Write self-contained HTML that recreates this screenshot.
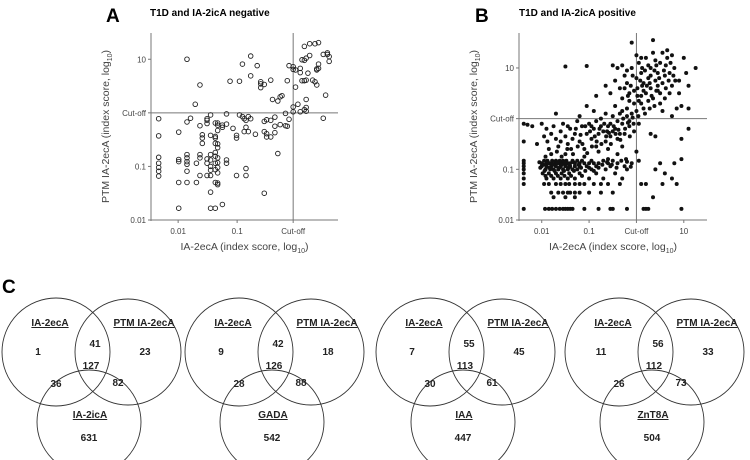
<!DOCTYPE html>
<html><head><meta charset="utf-8"><style>
body{margin:0;background:#fff;}
svg{display:block;font-family:"Liberation Sans",Arial,sans-serif;}
</style></head><body>
<svg id="fig" width="750" height="460" viewBox="0 0 750 460" xmlns="http://www.w3.org/2000/svg">
<text x="106" y="22" font-size="19" font-weight="bold">A</text>
<text x="150" y="16" font-size="10" font-weight="bold">T1D and IA-2icA negative</text>
<text x="475" y="22" font-size="19" font-weight="bold">B</text>
<text x="519" y="16" font-size="10" font-weight="bold">T1D and IA-2icA positive</text>
<text x="2" y="293" font-size="19" font-weight="bold">C</text>
<g id="chartA"></g>
<g id="chartB"></g>
<g id="venns"></g>
</svg>
<script>
const NS="http://www.w3.org/2000/svg";
// Panel A data: [log10 IA-2ecA, log10 PTM IA-2ecA]
const negPoints=[[-2.33,-0.11],[-2.33,-0.43],[-2.33,-0.83],[-2.33,-0.94],[-2.33,-1.02],[-2.33,-1.09],[-2.33,-1.18],
[-1.99,-0.36],[-1.99,-0.87],[-1.99,-0.91],[-1.99,-1.3],[-1.99,-1.78],
[-1.85,1.0],[-1.85,-0.17],[-1.85,-0.78],[-1.85,-0.84],[-1.85,-0.91],[-1.85,-0.96],[-1.85,-1.09],[-1.85,-1.3],
[-1.79,-0.1],[-1.71,0.16],[-1.69,-0.94],[-1.69,-1.3],
[-1.63,0.52],[-1.63,-0.24],[-1.63,-0.78],[-1.63,-0.84],[-1.63,-1.17],
[-1.59,-0.41],[-1.59,-0.47],[-1.59,-0.57],
[-1.51,-0.11],[-1.51,-0.14],[-1.51,-0.2],[-1.51,-0.86],[-1.51,-0.94],[-1.51,-1.17],
[-1.45,-0.04],[-1.45,-0.42],[-1.45,-0.78],[-1.45,-0.88],[-1.45,-1.0],[-1.45,-1.07],[-1.45,-1.17],[-1.45,-1.48],[-1.45,-1.78],
[-1.37,-0.19],[-1.37,-0.44],[-1.37,-0.47],[-1.37,-0.57],[-1.37,-0.74],[-1.37,-0.81],[-1.37,-0.94],[-1.37,-1.06],[-1.37,-1.3],[-1.37,-1.78],
[-1.33,-0.19],[-1.33,-0.23],[-1.33,-0.33],[-1.33,-0.58],[-1.33,-0.65],[-1.33,-0.84],[-1.33,-0.93],[-1.33,-1.02],[-1.33,-1.12],[-1.33,-1.31],[-1.33,-1.34],
[-1.25,-0.23],[-1.25,-0.27],[-1.25,-1.71],
[-1.18,-0.02],[-1.18,-0.21],[-1.18,-0.88],[-1.18,-0.94],
[-1.12,0.59],[-1.07,-0.29],[-1.01,-0.42],[-1.01,-0.47],[-1.01,-1.17],
[-0.96,0.59],[-0.96,-0.04],[-0.91,0.91],[-0.91,-0.07],[-0.88,-0.11],[-0.88,-0.35],
[-0.85,-0.14],[-0.85,-0.27],[-0.85,-1.04],[-0.85,-1.17],[-0.81,-0.07],[-0.81,-0.35],
[-0.77,1.06],[-0.77,0.69],[-0.77,-0.11],[-0.69,-0.4],[-0.66,0.88],
[-0.6,0.47],[-0.6,0.58],[-0.6,0.54],[-0.54,0.53],[-0.54,-0.16],[-0.54,-0.35],[-0.54,-1.5],
[-0.5,-0.13],[-0.5,-0.39],[-0.5,-0.45],[-0.43,0.61],[-0.43,-0.14],[-0.43,-0.45],[-0.4,0.25],
[-0.36,-0.08],[-0.36,-0.25],[-0.36,-0.37],[-0.31,-0.76],[-0.31,0.22],[-0.27,0.3],[-0.27,-0.22],[-0.24,0.32],
[-0.18,-0.01],[-0.18,-0.24],[-0.15,0.6],[-0.15,-0.25],[-0.12,0.88],[-0.12,-0.12],
[-0.05,0.86],[-0.05,0.81],[-0.05,0.11],[-0.05,0.02],[-0.01,0.8],[-0.01,0.48],[0.03,0.16],
[0.07,0.83],[0.07,0.75],[0.07,0.02],[0.1,0.99],[0.1,0.6],[0.14,1.24],[0.14,0.98],[0.14,0.6],[0.14,0.06],
[0.17,1.02],[0.17,0.61],[0.17,0.25],[0.17,0.1],[0.17,0.03],[0.2,0.74],[0.23,1.29],[0.23,1.07],
[0.28,0.61],[0.32,1.29],[0.32,0.58],[0.35,0.82],[0.35,0.8],[0.35,0.52],[0.38,1.31],[0.38,0.91],[0.38,0.83],
[0.46,1.09],[0.46,-0.1],[0.5,0.33],[0.53,1.12],[0.53,1.09],[0.56,1.05],[0.56,0.96]];
// Panel B data
const posPoints=[[-2.38,-1.78],[-1.93,-1.78],[-1.85,-1.78],[-1.78,-1.78],[-1.7,-1.78],[-1.62,-1.78],[-1.55,-1.78],[-1.5,-1.78],[-1.45,-1.78],[-1.4,-1.78],[-1.35,-1.78],[-1.1,-1.78],[-0.8,-1.78],[-0.55,-1.78],[-0.5,-1.78],[-0.2,-1.78],[0.15,-1.78],[0.2,-1.78],[0.25,-1.78],[0.95,-1.78],
[-1.8,-1.46],[-1.65,-1.46],[-1.55,-1.46],[-1.45,-1.46],[-1.4,-1.46],[-1.3,-1.46],[-1.2,-1.46],[-1.0,-1.46],[-0.75,-1.46],[-0.5,-1.46],
[-2.38,-1.29],[-1.95,-1.29],[-1.85,-1.29],[-1.7,-1.29],[-1.6,-1.29],[-1.5,-1.29],[-1.42,-1.29],[-1.3,-1.29],[-1.2,-1.29],[-1.1,-1.29],[-0.9,-1.29],[-0.75,-1.29],[-0.6,-1.29],[-0.35,-1.29],[0.1,-1.29],[0.2,-1.29],[0.55,-1.29],[0.85,-1.29],
[-1.75,-1.55],[-1.5,-1.55],[-1.3,-1.55],[0.35,-1.55],
[-2.38,-0.88],[-2.0,-0.88],[-1.9,-0.88],[-1.85,-0.88],[-1.8,-0.88],[-1.72,-0.88],[-1.65,-0.88],[-1.6,-0.88],[-1.55,-0.88],[-1.5,-0.88],[-1.45,-0.88],[-1.4,-0.88],[-1.3,-0.88],[-1.2,-0.88],[-1.1,-0.88],[-1.0,-0.88],[-0.9,-0.88],[-0.8,-0.88],[-0.6,-0.88],[-0.4,-0.88],[-0.1,-0.88],[0.5,-0.88],[0.8,-0.88],
[-2.38,-0.83],[-1.95,-0.83],[-1.88,-0.83],[-1.78,-0.83],[-1.7,-0.83],[-1.62,-0.83],[-1.55,-0.83],[-1.48,-0.83],[-1.35,-0.83],[-1.25,-0.83],[-1.15,-0.83],[-0.95,-0.83],[-0.7,-0.83],[-0.5,-0.83],[0.05,-0.83],
[-2.38,-0.94],[-2.0,-0.94],[-1.9,-0.94],[-1.8,-0.94],[-1.7,-0.94],[-1.6,-0.94],[-1.5,-0.94],[-1.4,-0.94],[-1.3,-0.94],[-1.2,-0.94],[-1.05,-0.94],[-0.85,-0.94],[-0.55,-0.94],[-0.25,-0.94],
[-2.38,-1.0],[-1.92,-1.0],[-1.82,-1.0],[-1.75,-1.0],[-1.65,-1.0],[-1.55,-1.0],[-1.45,-1.0],[-1.35,-1.0],[-1.25,-1.0],[-0.95,-1.0],[-0.65,-1.0],[-0.2,-1.0],[0.4,-1.0],
[-2.38,-1.08],[-1.98,-1.08],[-1.85,-1.08],[-1.7,-1.08],[-1.58,-1.08],[-1.42,-1.08],[-1.2,-1.08],[-0.85,-1.08],[-0.45,-1.08],[0.6,-1.08],
[-2.38,-1.18],[-1.9,-1.18],[-1.75,-1.18],[-1.6,-1.18],[-1.45,-1.18],[-1.3,-1.18],[-1.0,-1.18],[-0.7,-1.18],[-0.3,-1.18],[0.75,-1.18],
[-2.38,-0.1],[-2.3,-0.12],[-2.38,-0.45],[-2.0,-0.1],[-1.9,-0.2],[-1.8,-0.3],[-1.75,-0.15],[-1.7,-0.4],[-1.6,-0.25],[-1.55,-0.1],[-1.5,-0.35],[-1.45,-0.5],[-1.4,-0.2],[-1.38,-0.6],[-1.3,-0.3],[-1.25,-0.05],[-1.2,-0.45],[-1.15,-0.15],[-1.1,-0.6],[-1.05,-0.3],[-1.0,-0.1],[-0.95,-0.4],[-0.9,-0.2],[-0.85,-0.55],[-0.8,-0.3],[-0.75,0.0],[-0.7,-0.25],[-0.65,-0.45],[-0.6,-0.15],[-0.55,-0.35],[-0.5,0.05],[-0.45,-0.2],[-0.4,-0.4],[-0.35,0.1],[-0.3,-0.1],[-0.25,-0.3],[-0.2,0.2],[-0.15,-0.05],[-0.1,0.1],[-0.05,-0.25],[0.0,0.15],[0.05,-0.1],[0.1,0.3],[-1.7,0.1],[-1.2,0.05],[-1.35,-0.4],[-1.65,-0.55],[-1.85,-0.6],[-2.1,-0.5],[-1.5,-0.7],[-1.1,-0.75],[-0.8,-0.65],[-0.6,-0.6],[-0.3,-0.55],[-0.6,-0.8],[-0.4,-0.7],[-0.2,-0.85],[0.0,-0.65],[0.3,-0.3],[0.4,-0.35],[0.95,-0.4],[0.95,-0.8],[1.1,-0.2],
[-0.9,0.15],[-0.85,-0.05],[-0.65,0.1],[-0.55,-0.1],[-0.4,-0.05],[-0.45,0.25],[-0.3,0.15],[-1.05,0.25],[-0.95,-0.15],[-0.75,-0.15],[-0.62,-0.25],[-0.5,-0.25],[-0.35,-0.3],[-0.15,-0.15],[-0.2,0.05],
[-1.5,1.03],[-1.05,1.04],[-0.85,0.45],[-0.65,0.65],[-0.55,0.5],[-0.5,1.05],[-0.45,0.75],[-0.4,1.0],[-0.35,0.6],[-0.3,0.4],[-0.25,0.85],[-0.2,0.7],[-0.15,0.5],[-0.1,1.0],[-0.05,0.3],[0.0,0.8],[0.02,0.6],[0.05,1.1],[0.1,0.45],[0.1,0.9],[0.15,0.7],[0.2,1.2],[0.2,0.5],[0.25,0.8],[0.3,0.6],[0.3,1.0],[0.35,0.4],[0.35,1.3],[0.4,0.75],[0.45,0.9],[0.45,0.55],[0.5,1.1],[0.5,0.3],[0.55,0.7],[0.6,0.85],[0.65,1.2],[0.7,0.5],[0.75,0.65],[0.8,1.0],[0.85,0.2],[0.9,0.5],[0.9,0.75],[1.0,1.2],[1.1,0.65],[1.1,0.2],[1.25,1.0],[-0.1,1.5],[0.35,1.55],[0.95,0.25],[0.6,0.4],[0.25,0.35],[0.15,0.2],[-0.05,0.55],[0.05,0.35],[0.55,1.3],[0.65,1.35],[0.75,1.25],[0.4,1.15],[0.25,1.05],[0.0,1.25],[-0.2,0.95],[-0.3,1.05],[0.7,0.9],[0.45,0.65],[0.15,0.55],[0.08,0.75],[-0.12,0.65],[0.3,0.85],[0.5,0.5],[0.38,0.95],[0.12,1.0],[0.62,0.6],[0.22,0.65],[-0.15,0.35],[0.82,0.75],[1.05,0.9],[0.55,0.15],[0.75,0.05]];
// Additional dense-region points for panel B
const posPointsExtra=[[-2.05,-0.86],[-1.97,-0.91],[-1.87,-0.86],[-1.76,-0.91],[-1.67,-0.86],[-1.58,-0.91],[-1.52,-0.86],[-1.42,-0.91],[-1.33,-0.86],[-1.22,-0.91],[-2.03,-0.97],[-1.94,-1.03],[-1.84,-0.97],[-1.73,-1.03],[-1.63,-0.97],[-1.53,-1.03],[-1.43,-0.97],[-1.32,-1.03],[-1.17,-0.97],[-1.08,-1.03],
[-1.92,-1.13],[-1.8,-1.13],[-1.66,-1.13],[-1.52,-1.13],[-1.38,-1.13],[-1.15,-1.13],[-1.0,-0.97],[-0.9,-1.03],[-0.8,-0.97],[-0.72,-0.91],[-0.62,-0.86],[-0.52,-0.91],[-0.42,-0.97],[-0.32,-0.83],[-0.22,-0.8],[-0.12,-0.95],
[-1.92,-0.75],[-1.8,-0.7],[-1.68,-0.65],[-1.58,-0.75],[-1.46,-0.6],[-1.34,-0.7],[-1.24,-0.55],[-1.14,-0.5],[-1.04,-0.68],[-0.94,-0.55],[-0.84,-0.45],[-0.74,-0.5],[-0.64,-0.35],[-0.54,-0.5],[-0.44,-0.3],[-0.34,-0.42],[-0.24,-0.2],[-0.14,-0.35],[-0.06,-0.1],[0.04,0.05],
[-1.28,-0.2],[-1.18,-0.32],[-1.08,-0.15],[-0.98,-0.25],[-0.88,-0.35],[-0.78,-0.2],[-0.68,-0.1],[-0.58,-0.28],[-0.48,-0.15],[-0.38,-0.22],[-0.28,0.0],[-0.18,-0.08],[-0.08,0.02],[-1.6,-0.45],[-1.95,-0.35],[-2.2,-0.15],[-1.45,-0.15],[-1.88,-0.45],
[-0.18,0.45],[-0.08,0.85],[0.02,0.45],[0.12,0.65],[0.18,0.95],[0.28,0.7],[0.32,0.45],[0.42,0.55],[0.48,0.8],[0.58,0.95],[0.68,0.75],[0.78,0.85],[0.28,0.2],[0.38,0.25],[0.18,0.1],[0.62,1.05],[0.72,1.1],[0.42,1.05],[0.1,1.2],[-0.25,0.6]];
const xTicksA=[-2,-1,-0.05];const xTickLabelsA=["0.01","0.1","Cut-off"];
const yTicksA=[-2,-1,0,1];const yTickLabelsA=["0.01","0.1","Cut-off","10"];
const xTicksB=[-2,-1,0,1];const xTickLabelsB=["0.01","0.1","Cut-off","10"];
const yTicksB=[-2,-1,0,1];const yTickLabelsB=["0.01","0.1","Cut-off","10"];

function el(tag,attrs,parent){const e=document.createElementNS(NS,tag);for(const k in attrs)e.setAttribute(k,attrs[k]);parent.appendChild(e);return e;}

function scatter(g,cfg){
  const sx=v=>cfg.left+(v-cfg.xmin)/(cfg.xmax-cfg.xmin)*(cfg.right-cfg.left);
  const sy=v=>cfg.bottom-(v-cfg.ymin)/(cfg.ymax-cfg.ymin)*(cfg.bottom-cfg.top);
  const ax=el('line',{x1:cfg.left,x2:cfg.left,y1:cfg.top,y2:cfg.bottom+1,stroke:'#777','stroke-width':1},g);
  
  const bx=el('line',{x1:cfg.left,x2:cfg.right,y1:cfg.bottom,y2:cfg.bottom,stroke:'#777','stroke-width':1},g);
  
  const cv=el('line',{x1:sx(cfg.cutX),x2:sx(cfg.cutX),y1:cfg.top,y2:cfg.bottom,stroke:'#777','stroke-width':1},g);
  
  const ch=el('line',{x1:cfg.left,x2:cfg.right,y1:sy(0),y2:sy(0),stroke:'#777','stroke-width':1},g);
  
  cfg.xt.forEach((t,i)=>{
    const tk=el('line',{x1:sx(t),x2:sx(t),y1:cfg.bottom,y2:cfg.bottom+3,stroke:'#777'},g);
    
    const tx=el('text',{x:sx(t),y:cfg.bottom+14,'font-size':8,'text-anchor':'middle',fill:'#444'},g);
    
    tx.textContent=cfg.xl[i];
  });
  cfg.yt.forEach((t,i)=>{
    const tk=el('line',{x1:cfg.left-3,x2:cfg.left,y1:sy(t),y2:sy(t),stroke:'#777'},g);
    
    const tx=el('text',{x:cfg.left-5,y:sy(t)+3,'font-size':8,'text-anchor':'end',fill:'#444'},g);
    
    tx.textContent=cfg.yl[i];
  });
  const xt=el('text',{x:(cfg.left+cfg.right)/2,y:cfg.bottom+30,'font-size':10.5,'text-anchor':'middle',fill:'#444'},g);
  
  xt.innerHTML='IA-2ecA (index score, log<tspan font-size="7" dy="3">10</tspan><tspan dy="-3">)</tspan>';
  const cy=(cfg.top+cfg.bottom)/2;
  const yt=el('text',{x:0,y:0,'font-size':10.5,'text-anchor':'middle',fill:'#444',transform:`translate(${cfg.left-42},${cy}) rotate(-90)`},g);
  
  yt.innerHTML='PTM IA-2ecA (index score, log<tspan font-size="7" dy="3">10</tspan><tspan dy="-3">)</tspan>';
  cfg.pts.forEach(p=>{
    const c=el('circle',cfg.open?{cx:sx(p[0]),cy:sy(p[1]),r:2.3,fill:'none',stroke:'#222','stroke-width':0.9}:{cx:sx(p[0]),cy:sy(p[1]),r:2.0,fill:'#111'},g);
    
  });
}
scatter(document.getElementById('chartA'),{left:151,right:338,top:33,bottom:220,xmin:-2.46,xmax:0.71,ymin:-2,ymax:1.49,cutX:-0.05,xt:xTicksA,xl:xTickLabelsA,yt:yTicksA,yl:yTickLabelsA,pts:negPoints,open:true});
scatter(document.getElementById('chartB'),{left:519,right:707,top:33,bottom:220,xmin:-2.48,xmax:1.49,ymin:-2,ymax:1.69,cutX:0,xt:xTicksB,xl:xTickLabelsB,yt:yTicksB,yl:yTickLabelsB,pts:posPoints.concat(posPointsExtra),open:false});

// Venn data
const vennThird=["IA-2icA","GADA","IAA","ZnT8A"];
const vennOnlyA=[1,9,7,11];
const vennOnlyB=[23,18,45,33];
const vennAB=[41,42,55,56];
const vennABC=[127,126,113,112];
const vennAC=[36,28,30,26];
const vennBC=[82,88,61,73];
const vennOnlyC=[631,542,447,504];
const vg=document.getElementById('venns');
const offs=[0,183,374,563];
vennThird.forEach((name,i)=>{
  const o=offs[i];
  const g=el('g',{transform:`translate(${o},0)`},vg);
  
  [[56,352,54],[128,352,53],[89,422,52]].forEach(c=>{
    const ci=el('circle',{cx:c[0],cy:c[1],r:c[2],fill:'none',stroke:'#333','stroke-width':0.9},g);
    
  });
  const txt=(x,y,s,ul)=>{const t=el('text',{x:x,y:y,'font-size':10,'font-weight':'bold','text-anchor':'middle',fill:'#222','text-decoration':ul?'underline':'none'},g);
    t.textContent=s;return t;};
  txt(50,326,'IA-2ecA',true);
  txt(144,326,'PTM IA-2ecA',true);
  txt(90,418,name,true);
  txt(38,355,vennOnlyA[i]);
  txt(95,347,vennAB[i]);
  txt(145,355,vennOnlyB[i]);
  txt(91,369,vennABC[i]);
  txt(56,387,vennAC[i]);
  txt(118,386,vennBC[i]);
  txt(89,441,vennOnlyC[i]);
});
</script>
</body></html>
